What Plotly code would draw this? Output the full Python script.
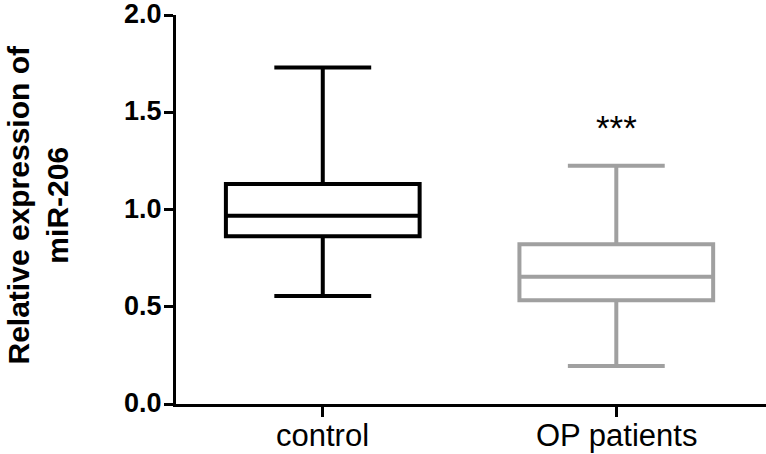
import plotly.graph_objects as go

categories = ["control", "OP patients"]
lower_whisker = [0.555, 0.195]
q1_values = [0.863, 0.534]
median_values = [0.968, 0.654]
q3_values = [1.131, 0.821]
upper_whisker = [1.730, 1.225]
box_colors = ["#000000", "#A0A0A0"]
y_ticks = [0.0, 0.5, 1.0, 1.5, 2.0]
y_tick_labels = ["0.0", "0.5", "1.0", "1.5", "2.0"]
significance_label = "***"
significance_y = 1.42

FONT = "Liberation Sans, Arial, sans-serif"

fig = go.Figure()
for i, cat in enumerate(categories):
    fig.add_trace(go.Box(
        x=[cat],
        q1=[q1_values[i]],
        median=[median_values[i]],
        q3=[q3_values[i]],
        lowerfence=[lower_whisker[i]],
        upperfence=[upper_whisker[i]],
        width=0.66,
        whiskerwidth=0.5,
        line=dict(color=box_colors[i], width=4),
        fillcolor="rgba(255,255,255,0)",
        boxpoints=False,
        showlegend=False,
        hoverinfo="skip",
    ))

# category labels below the x axis
for cat in categories:
    fig.add_annotation(
        x=cat, y=0, xref="x", yref="y",
        text=cat, showarrow=False,
        xanchor="center", yanchor="top", yshift=-12,
        font=dict(family=FONT, size=31, color="black"),
    )

# y tick labels
for v, lab in zip(y_ticks, y_tick_labels):
    fig.add_annotation(
        x=0, y=v, xref="paper", yref="y",
        text="<b>%s</b>" % lab, showarrow=False,
        xanchor="right", yanchor="middle", xshift=-12, yshift=1,
        font=dict(family=FONT, size=27, color="black"),
    )

fig.add_annotation(
    x=categories[1], y=significance_y, xref="x", yref="y",
    text=significance_label, showarrow=False,
    font=dict(family=FONT, size=35, color="black"),
)

fig.add_annotation(
    x=0, y=0.5, xref="paper", yref="paper",
    text="<b>Relative expression of<br>miR-206</b>",
    textangle=-90, showarrow=False,
    xanchor="center", yanchor="middle", xshift=-139, yshift=4,
    font=dict(family=FONT, size=30, color="black"),
)

fig.update_layout(
    width=766, height=454,
    margin=dict(l=176, r=0, t=15, b=50),
    paper_bgcolor="white", plot_bgcolor="white",
    font=dict(family=FONT, color="black"),
    xaxis=dict(
        type="category", categoryorder="array", categoryarray=categories,
        range=[-0.5, 1.51], automargin=False,
        showline=True, linewidth=3, linecolor="black",
        ticks="outside", ticklen=10, tickwidth=3, tickcolor="black",
        showticklabels=False,
        showgrid=False, zeroline=False,
    ),
    yaxis=dict(
        range=[0, 2.0], automargin=False,
        tickvals=y_ticks,
        showline=True, linewidth=3, linecolor="black",
        ticks="outside", ticklen=9, tickwidth=3, tickcolor="black",
        showticklabels=False,
        showgrid=False, zeroline=False,
    ),
)

fig.write_html("out.html", config={"displayModeBar": False},
               post_script="document.body.style.margin='0';")
